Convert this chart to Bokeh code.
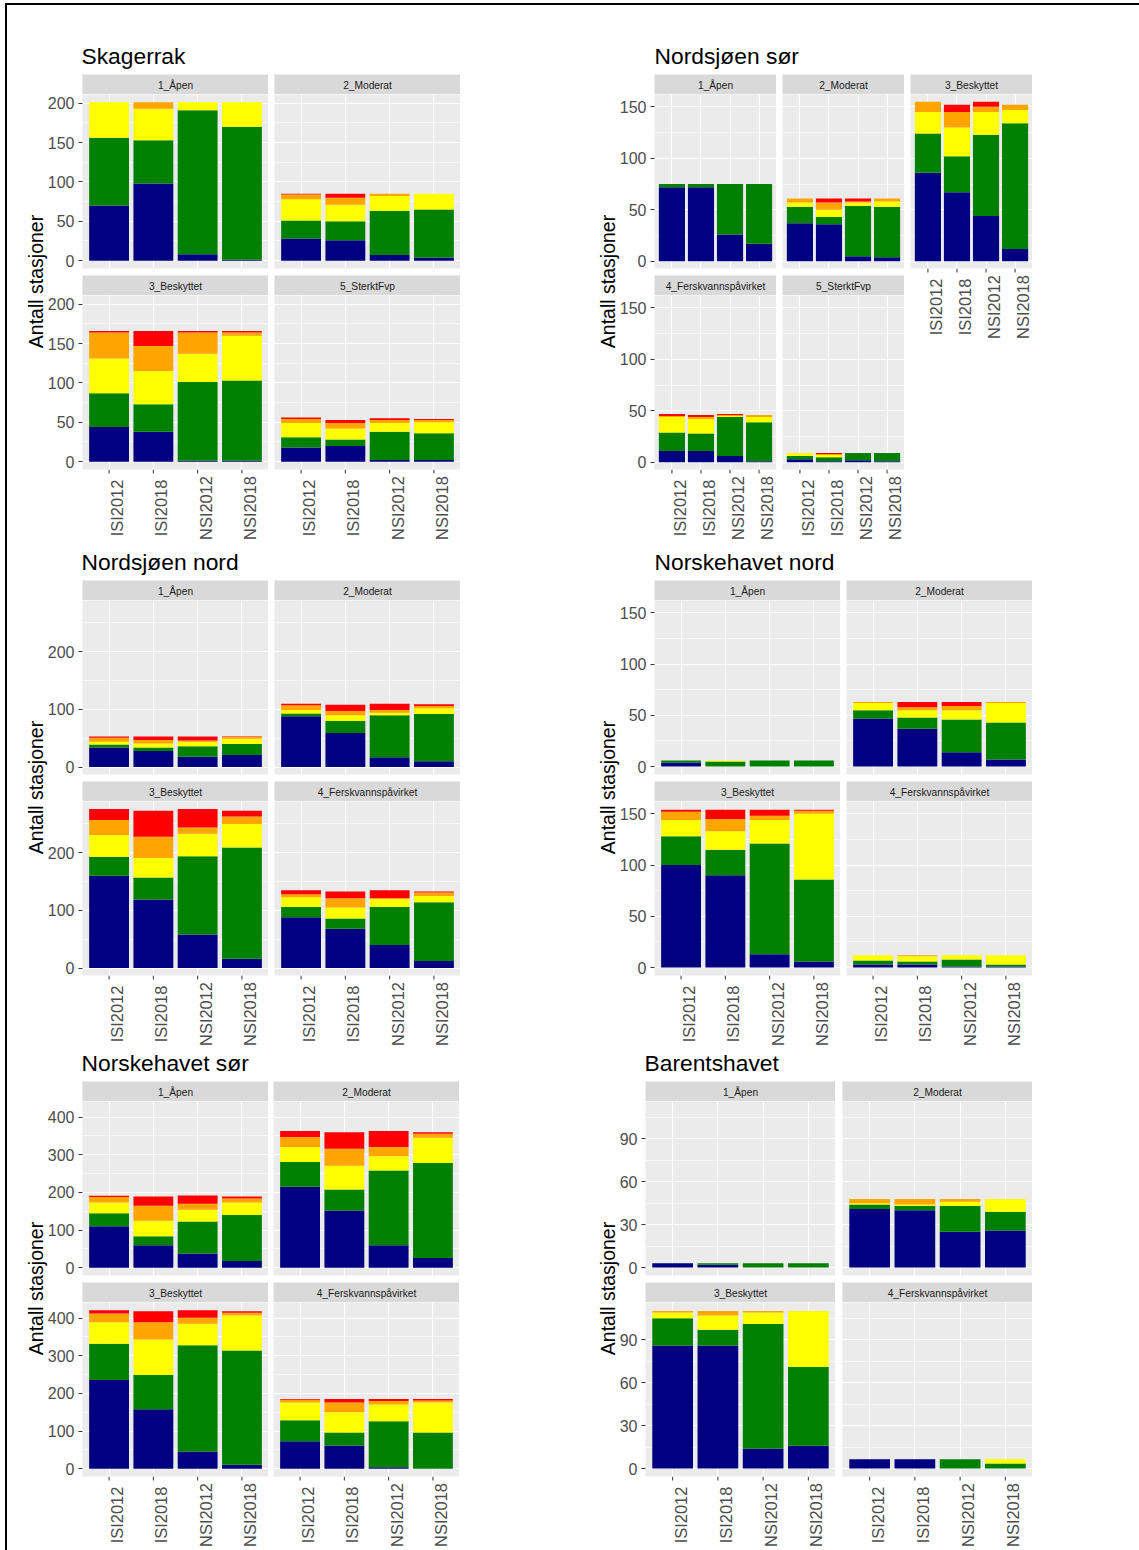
from math import pi
from bokeh.core.properties import value
from bokeh.embed import file_html
from bokeh.layouts import column
from bokeh.models import ColumnDataSource, Div, FactorRange, FixedTicker, Range1d
from bokeh.plotting import figure
from bokeh.resources import INLINE

periods = ["ISI2012", "ISI2018", "NSI2012", "NSI2018"]
classes = ["svaert_god", "god", "moderat", "daarlig", "svaert_daarlig"]
colors = ["#000080", "#008000", "#FFFF00", "#FFA500", "#FF0000"]

# each facet: one row per period, stations per class
skag_apen = [[70, 86, 45, 0, 0], [98, 55, 40, 8, 0], [8, 183, 10, 0, 0], [1, 169, 31, 0, 0]]
skag_moderat = [[28, 23, 27, 6, 1], [26, 24, 21, 9, 5], [7, 56, 19, 3, 0], [4, 61, 20, 0, 0]]
skag_besk = [[44, 43, 44, 33, 2], [38, 35, 42, 32, 19], [1, 100, 36, 27, 2], [1, 102, 57, 4, 2]]
skag_sterkt = [[18, 13, 18, 5, 2], [20, 8, 14, 7, 4], [2, 36, 11, 4, 2], [2, 34, 14, 3, 1]]

nsor_apen = [[72, 3, 0, 0, 0], [72, 3, 0, 0, 0], [26, 49, 0, 0, 0], [17, 58, 0, 0, 0]]
nsor_moderat = [[37, 16, 4, 4, 0], [36, 7, 7, 7, 4], [5, 49, 3, 1, 3], [4, 49, 5, 3, 0]]
nsor_besk = [[86, 38, 21, 10, 0], [67, 35, 28, 15, 7], [44, 79, 22, 5, 5], [12, 122, 13, 5, 0]]
nsor_fersk = [[11, 18, 15, 1, 2], [11, 17, 14, 2, 2], [6, 38, 1, 1, 1], [1, 38, 5, 2, 0]]
nsor_sterkt = [[3, 3, 3, 0, 0], [1, 4, 2, 1, 1], [2, 7, 0, 0, 0], [1, 8, 0, 0, 0]]

nnord_apen = [[34, 5, 5, 7, 2], [28, 6, 7, 6, 6], [18, 18, 8, 2, 7], [21, 19, 9, 3, 1]]
nnord_moderat = [[88, 5, 6, 8, 3], [59, 21, 10, 7, 11], [17, 73, 4, 5, 11], [10, 82, 10, 4, 3]]
nnord_besk = [[160, 33, 38, 26, 19], [119, 38, 34, 37, 45], [58, 136, 39, 11, 32], [16, 193, 41, 13, 10]]
nnord_fersk = [[88, 18, 17, 5, 7], [68, 18, 19, 16, 12], [40, 66, 14, 1, 14], [12, 102, 11, 6, 2]]

hnord_apen = [[4, 2, 0, 0, 0], [0, 5, 1, 0, 0], [0, 6, 0, 0, 0], [0, 6, 0, 0, 0]]
hnord_moderat = [[47, 8, 7, 1, 0], [37, 11, 7, 3, 5], [14, 32, 9, 4, 4], [7, 36, 19, 1, 0]]
hnord_besk = [[100, 28, 16, 8, 2], [90, 25, 18, 12, 9], [13, 108, 23, 4, 6], [6, 80, 64, 3, 1]]
hnord_fersk = [[3, 4, 5, 0, 0], [3, 3, 5, 1, 0], [1, 7, 4, 0, 0], [1, 2, 9, 0, 0]]

hsor_apen = [[110, 35, 28, 15, 3], [60, 24, 41, 40, 24], [38, 85, 31, 16, 22], [18, 122, 33, 11, 5]]
hsor_moderat = [[215, 66, 40, 26, 16], [152, 56, 63, 45, 44], [60, 198, 38, 25, 42], [26, 252, 67, 11, 4]]
hsor_besk = [[236, 96, 57, 23, 9], [158, 91, 94, 46, 29], [46, 282, 57, 16, 20], [11, 303, 93, 7, 4]]
hsor_fersk = [[73, 56, 47, 7, 2], [62, 34, 54, 26, 9], [4, 122, 45, 9, 5], [0, 96, 80, 5, 4]]

bar_apen = [[3, 0, 0, 0, 0], [2, 1, 0, 0, 0], [0, 3, 0, 0, 0], [0, 3, 0, 0, 0]]
bar_moderat = [[41, 3, 1, 3, 0], [40, 3, 1, 4, 0], [25, 18, 3, 2, 0], [26, 13, 9, 0, 0]]
bar_besk = [[86, 19, 4, 1, 0], [86, 11, 10, 3, 0], [14, 87, 8, 1, 0], [16, 55, 39, 0, 0]]
bar_fersk = [[6.5, 0, 0, 0, 0], [6.5, 0, 0, 0, 0], [0, 6.5, 0, 0, 0], [0, 3.5, 3, 0, 0]]

FONT = value("Liberation Sans")
PANEL_H = 174
STRIP_H = 20
LABEL_H = 72
items = []


def at(left, top):
    return {"position": "absolute", "left": f"{left}px", "top": f"{top}px"}


def x_factors():
    return FactorRange(*periods, factor_padding=0, range_padding=0.05)


def bare_figure(left, top, w, h, x_range, y_range, bg=None):
    p = figure(width=w, height=h, x_range=x_range, y_range=y_range,
               output_backend="svg", toolbar_location=None, frame_align=False,
               min_border_left=0, min_border_right=0, min_border_top=0, min_border_bottom=0,
               background_fill_color=bg, border_fill_color=None, outline_line_color=None,
               x_axis_location=None, y_axis_location=None, styles=at(left, top))
    p.grid.visible = False
    items.append(p)
    return p


def text_box(txt, left, top, w, h, size, color="#000000", bg=None, x=None, dy=0,
             align="center", angle=0):
    p = bare_figure(left, top, w, h, Range1d(0, w), Range1d(0, h), bg)
    p.text(x=[w / 2 if x is None else x], y=[h / 2 + dy], text=[txt],
           text_font=FONT, text_font_size=size, text_color=color, text_align=align,
           text_baseline="middle", angle=angle)


def panel(name, rows, left, top, width, ylim, ticks, minor, show_y, show_x):
    left_border = 50 if show_y else 0
    text_box(name, left, top - STRIP_H, width, STRIP_H, "10.2px", "#1A1A1A", "#D9D9D9", dy=-0.7)
    # 4px under the frame so the "0" tick label keeps inside its figure
    p = figure(width=width + left_border, height=PANEL_H + 4,
               x_range=x_factors(), y_range=Range1d(*ylim),
               output_backend="svg", toolbar_location=None, frame_align=False,
               min_border_left=left_border, min_border_right=0, min_border_top=0,
               min_border_bottom=4, background_fill_color="#EBEBEB",
               border_fill_color=None, outline_line_color=None,
               styles=at(left - left_border, top))
    series = {"period": periods}
    for name_, col in zip(classes, zip(*rows)):
        series[name_] = list(col)
    p.vbar_stack(classes, x="period", width=0.9, color=colors, line_color=None,
                 source=ColumnDataSource(series))

    ticker = FixedTicker(ticks=ticks, minor_ticks=minor)
    p.yaxis.ticker = ticker
    p.ygrid.ticker = ticker
    p.xgrid.grid_line_color = "#FFFFFF"
    p.xgrid.grid_line_width = 1.1
    p.ygrid.grid_line_color = "#FFFFFF"
    p.ygrid.grid_line_width = 1.1
    p.ygrid.minor_grid_line_color = "#FFFFFF"
    p.ygrid.minor_grid_line_width = 0.6

    p.xaxis.visible = False
    p.yaxis.visible = show_y
    p.yaxis.axis_line_color = None
    p.yaxis.minor_tick_line_color = None
    p.yaxis.major_tick_in = 0
    p.yaxis.major_tick_out = 4
    p.yaxis.major_tick_line_color = "#333333"
    p.yaxis.major_label_standoff = 4
    p.yaxis.major_label_text_font = "Liberation Sans"
    p.yaxis.major_label_text_font_size = "16px"
    p.yaxis.major_label_text_color = "#4D4D4D"
    items.append(p)

    if show_x:
        # R's rotated labels sit right of their ticks and are centred, an axis can't do that
        lab = bare_figure(left, top + PANEL_H, width, LABEL_H, x_factors(), Range1d(0, LABEL_H))
        lab.scatter(x=periods, y=[LABEL_H - 2] * 4, marker="dash", size=4, angle=pi / 2,
                    line_color="#333333", line_width=1)
        lab.text(x=periods, y=[LABEL_H - 38.5] * 4, text=periods, x_offset=8, angle=pi / 2,
                 text_align="center", text_baseline="middle", text_font=FONT,
                 text_font_size="16.4px", text_color="#4D4D4D")


def block(title, title_x, title_y, ylabel_x, ylabel_y, ylim, ticks, minor, facets):
    text_box(title, title_x, title_y - 15, 300, 30, "22.8px", x=0, align="left")
    for facet in facets:
        panel(*facet[:4], facet[4], ylim, ticks, minor, facet[5], facet[6])
    text_box("Antall stasjoner", ylabel_x - 15, ylabel_y - 100, 30, 200, "19.5px", angle=pi / 2)


# name, values, left, top, width, y axis, x axis
block("Skagerrak", 81, 55, 35, 281, (-10, 211), [0, 50, 100, 150, 200], [25, 75, 125, 175], [
    ("1_Åpen", skag_apen, 82, 94, 186, True, False),
    ("2_Moderat", skag_moderat, 274, 94, 186, False, False),
    ("3_Beskyttet", skag_besk, 82, 295, 186, True, True),
    ("5_SterktFvp", skag_sterkt, 274, 295, 186, False, True),
])
block("Nordsjøen sør", 654, 55, 607, 281, (-7, 162), [0, 50, 100, 150], [25, 75, 125], [
    ("1_Åpen", nsor_apen, 654, 94, 122, True, False),
    ("2_Moderat", nsor_moderat, 782, 94, 122, False, False),
    ("3_Beskyttet", nsor_besk, 910, 94, 122, False, True),
    ("4_Ferskvannspåvirket", nsor_fersk, 654, 295, 122, True, True),
    ("5_SterktFvp", nsor_sterkt, 782, 295, 122, False, True),
])
block("Nordsjøen nord", 81, 561, 35, 787, (-13, 289), [0, 100, 200], [50, 150, 250], [
    ("1_Åpen", nnord_apen, 82, 600, 186, True, False),
    ("2_Moderat", nnord_moderat, 274, 600, 186, False, False),
    ("3_Beskyttet", nnord_besk, 82, 801, 186, True, True),
    ("4_Ferskvannspåvirket", nnord_fersk, 274, 801, 186, False, True),
])
block("Norskehavet nord", 654, 561, 607, 787, (-7.7, 162), [0, 50, 100, 150], [25, 75, 125], [
    ("1_Åpen", hnord_apen, 654, 600, 186, True, False),
    ("2_Moderat", hnord_moderat, 846, 600, 186, False, False),
    ("3_Beskyttet", hnord_besk, 654, 801, 186, True, True),
    ("4_Ferskvannspåvirket", hnord_fersk, 846, 801, 186, False, True),
])
block("Norskehavet sør", 81, 1062, 35, 1288, (-20.5, 441.5), [0, 100, 200, 300, 400], [50, 150, 250, 350], [
    ("1_Åpen", hsor_apen, 82, 1101, 186, True, False),
    ("2_Moderat", hsor_moderat, 273, 1101, 186, False, False),
    ("3_Beskyttet", hsor_besk, 82, 1302, 186, True, True),
    ("4_Ferskvannspåvirket", hsor_fersk, 273, 1302, 186, False, True),
])
block("Barentshavet", 644, 1062, 607, 1288, (-5.5, 116), [0, 30, 60, 90], [15, 45, 75, 105], [
    ("1_Åpen", bar_apen, 645, 1101, 190, True, False),
    ("2_Moderat", bar_moderat, 842, 1101, 190, False, False),
    ("3_Beskyttet", bar_besk, 645, 1302, 190, True, True),
    ("4_Ferskvannspåvirket", bar_fersk, 842, 1302, 190, False, True),
])

# frame of the pasted screenshot, two pieces each because a child stays inside the column's size
frame_parts = [(6, 3, 1100, 2), (1100, 3, 39, 2), (5, 3, 2, 1000), (5, 1000, 2, 550)]
for fx, fy, fw, fh in frame_parts:
    items.append(Div(text="", width=fw, height=fh, margin=0,
                     styles={**at(fx, fy), "background-color": "#000000"}))

page = column(*items, width=1123, height=1534)
open("out.html", "w").write(file_html(page, INLINE))
